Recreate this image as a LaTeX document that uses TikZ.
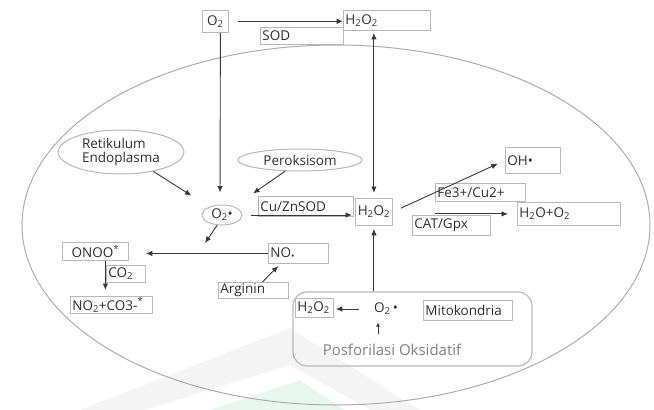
\documentclass[tikz,border=0pt]{standalone}
\usepackage{fontspec}
\setmainfont{Open Sans}
\usetikzlibrary{arrows.meta,shapes.geometric}
\definecolor{framegray}{gray}{0.72}
\definecolor{linegray}{gray}{0.22}
\definecolor{textgray}{gray}{0.18}
\definecolor{mint}{rgb}{0.91,0.97,0.93}

\begin{document}
\begin{tikzpicture}[x=1pt,y=-1pt,
  lbl/.style={font=\fontsize{13.5}{14.5}\selectfont, text=textgray},
  tbox/.style n args={3}{lbl, draw=framegray, line width=0.8pt, anchor=north west,
    inner xsep=2pt, inner ysep=0pt, text width=#1, minimum height=#2, align=#3},
  ovl/.style 2 args={lbl, ellipse, draw=framegray, line width=1pt, inner sep=0pt,
    minimum width=#1, minimum height=#2, align=left},
  arr/.style={-{Latex[length=6.5pt,width=5.5pt]}, draw=linegray, line width=0.9pt}]
\useasboundingbox (0,0) rectangle (654,410);
% Watermark
\fill[gray!9] (80,410) -- (290,328) -- (420,410) -- (370,410) -- (290,365) -- (145,410) -- cycle;
\fill[mint] (210,410) -- (300,380) -- (345,410) -- cycle;
% Sel
\draw[gray!65, line width=1pt] (336,225) ellipse (314 and 180);
% Luar sel
\node[tbox={22pt}{22pt}{center}] (otop) at (202,10) {O\textsubscript{2}};
\node[tbox={79pt}{17pt}{left}] (sod) at (260,27) {SOD};
\node[tbox={83pt}{20pt}{left}] (htop) at (343,10) {H\textsubscript{2}O\textsubscript{2}};
% Organel
\node[ovl={126pt}{44pt}] (retik) at (121,152) {Retikulum\\Endoplasma};
\node[ovl={124pt}{22pt}] (perok) at (300,160) {Peroksisom};
\node[ovl={40pt}{20pt}] (orad) at (222,215) {O\textsubscript{2}\textbullet};
\node[tbox={91pt}{20pt}{left}] (cuzn) at (258,196) {Cu/ZnSOD};
\node[tbox={33pt}{27pt}{center}] (hmid) at (355,198) {H\textsubscript{2}O\textsubscript{2}};
% Kanan
\node[tbox={51pt}{26pt}{left}] (oh) at (505,147) {OH\textbullet};
\node[tbox={86pt}{18pt}{left}] (fe) at (435,183) {Fe3+/Cu2+};
\node[tbox={74pt}{20pt}{left}] (cat) at (412,215) {CAT/Gpx};
\node[tbox={99pt}{23pt}{left}] (hoo) at (517,202) {H\textsubscript{2}O+O\textsubscript{2}};
% Kiri bawah
\node[tbox={56pt}{20pt}{left}] (no) at (268,243) {NO\textsubscript{\textbullet}};
\node[tbox={62pt}{18pt}{center}] (onoo) at (62,242) {ONOO\textsuperscript{*}};
\node[tbox={35pt}{17pt}{left}] (co) at (106,265) {CO\textsubscript{2}};
\node[tbox={78pt}{17pt}{left}] (noco) at (70,296) {NO\textsubscript{2}+CO3-\textsuperscript{*}};
\node[tbox={66pt}{16pt}{left}] (arg) at (218,282) {Arginin};
% Mitokondria
\node[draw=framegray, line width=1.2pt, rounded corners=14pt,
  minimum width=239pt, minimum height=74pt] (mitobox) at (412.5,329) {};
\node[tbox={34pt}{19pt}{left}] (hmito) at (295,298) {H\textsubscript{2}O\textsubscript{2}};
\node[lbl] (omito) at (386,309) {O\textsubscript{2}\,\textbullet};
\node[tbox={85pt}{20pt}{left}] (mito) at (423,300) {Mitokondria};
\node[lbl, text=gray, font=\fontsize{15}{16}\selectfont] (posf) at (392,350) {Posforilasi Oksidatif};
\coordinate (posfup) at (378,334);
\coordinate (join) at (205,243);
% Panah
\draw[arr, shorten <=9pt] (otop.east) -- (otop.east -| htop.west);
\draw[arr, shorten >=12pt] ([xshift=5pt]otop.south) -- ([xshift=-2pt]orad.north);
\draw[arr, {Latex[length=6.5pt,width=5.5pt]}-{Latex[length=6.5pt,width=5.5pt]}, shorten <=2pt, shorten >=5pt]
  (htop.south -| hmid.north) -- (hmid.north);
\draw[arr, shorten >=21pt] (retik.-31) -- (orad);
\draw[arr, shorten >=23pt] (perok.-143) -- (orad);
\draw[arr, shorten <=8pt, shorten >=3pt] (orad.east) -- (orad.east -| hmid.west);
\draw[arr] (orad.-115) -- (join);
\draw[arr, shorten >=17pt] (no.west) -- (no.west -| onoo.east);
\draw[arr, shorten >=6pt] ([xshift=10pt]onoo.south) -- ([xshift=10pt]onoo.south |- noco.north);
\draw[arr, shorten >=3pt] ([xshift=9pt]arg.north) -- ([xshift=-18pt]no.south);
\draw[arr, shorten >=3pt] (mitobox.north -| hmid.south) -- (hmid.south);
\draw[arr, shorten <=12pt, shorten >=2pt] (omito.west) -- (omito.west -| hmito.east);
\draw[arr, -{Latex[length=4pt,width=4pt]}, shorten >=4pt] (posfup) -- (omito.south -| posfup);
\draw[arr, shorten <=9pt, shorten >=8pt] (hmid.east) -- (oh.west);
\draw[arr, shorten >=9pt] (fe.south west |- hoo.west) -- (hoo.west);
\end{tikzpicture}
\end{document}
